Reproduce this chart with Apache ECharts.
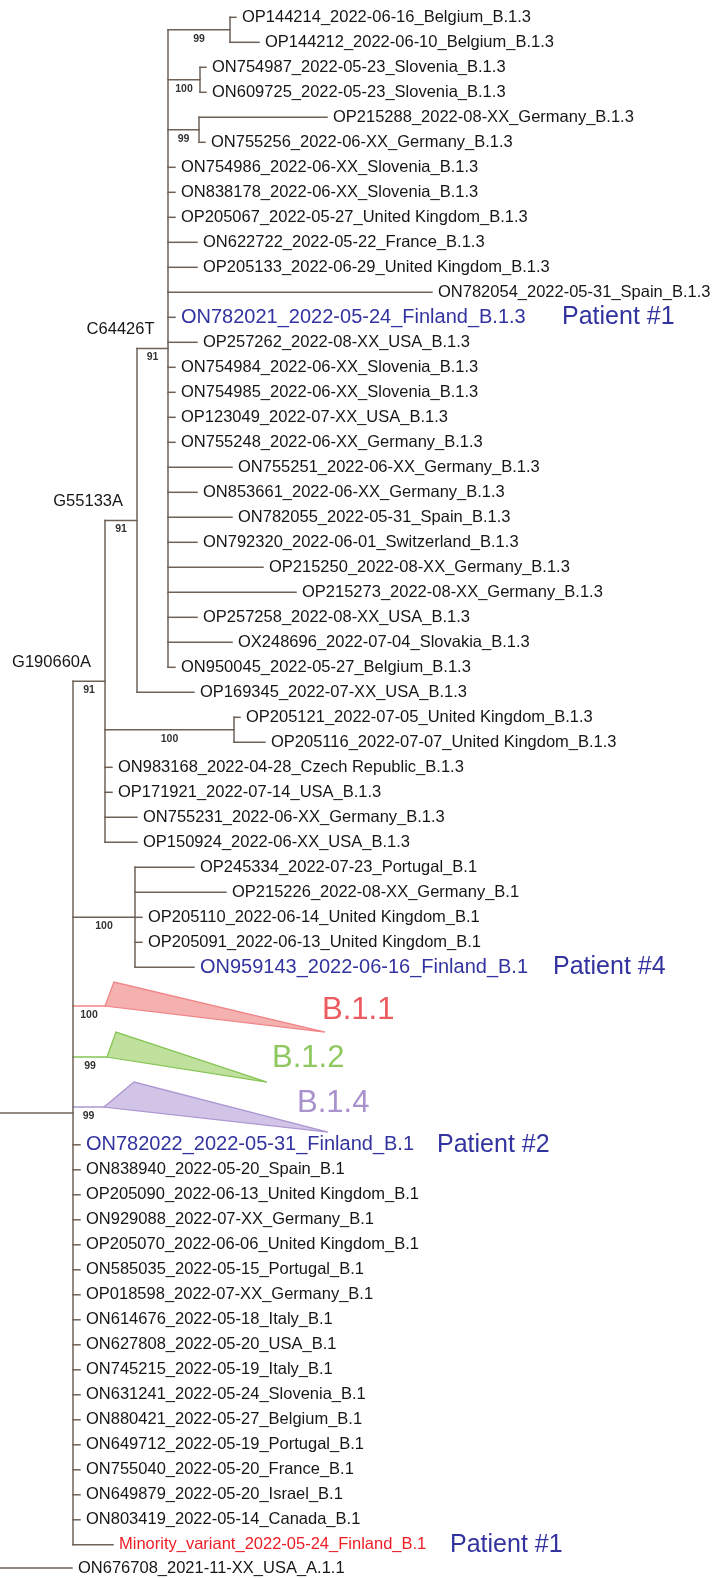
<!DOCTYPE html>
<html><head><meta charset="utf-8">
<script src="https://cdn.jsdelivr.net/npm/echarts@6/dist/echarts.min.js"></script>
<style>html,body{margin:0;padding:0;background:#fff}#c{width:714px;height:1578px}</style>
</head><body><div id="c"></div><script>
// internal nodes: [id, parent, x (branch distance), bootstrap, mutation]
const internalNodes = [
  ['ROOT', null, -2, '', ''],
  ['B1', 'ROOT', 73, '', ''],
  ['G190660A', 'B1', 105, '91', 'G190660A'],
  ['G55133A', 'G190660A', 137, '91', 'G55133A'],
  ['C64426T', 'G55133A', 168, '91', 'C64426T'],
  ['BE', 'C64426T', 230, '99', ''],
  ['SI', 'C64426T', 200, '100', ''],
  ['DE', 'C64426T', 199, '99', ''],
  ['UK', 'G190660A', 234, '100', ''],
  ['B1c', 'B1', 135, '100', '']
];
// leaves: [name, parent, tip x, row, kind]
const leaves = [
  ['OP144214_2022-06-16_Belgium_B.1.3','BE',236,0,'n'],
  ['OP144212_2022-06-10_Belgium_B.1.3','BE',259,1,'n'],
  ['ON754987_2022-05-23_Slovenia_B.1.3','SI',206,2,'n'],
  ['ON609725_2022-05-23_Slovenia_B.1.3','SI',206,3,'n'],
  ['OP215288_2022-08-XX_Germany_B.1.3','DE',327,4,'n'],
  ['ON755256_2022-06-XX_Germany_B.1.3','DE',205,5,'n'],
  ['ON754986_2022-06-XX_Slovenia_B.1.3','C64426T',175,6,'n'],
  ['ON838178_2022-06-XX_Slovenia_B.1.3','C64426T',175,7,'n'],
  ['OP205067_2022-05-27_United Kingdom_B.1.3','C64426T',175,8,'n'],
  ['ON622722_2022-05-22_France_B.1.3','C64426T',197,9,'n'],
  ['OP205133_2022-06-29_United Kingdom_B.1.3','C64426T',197,10,'n'],
  ['ON782054_2022-05-31_Spain_B.1.3','C64426T',432,11,'n'],
  ['ON782021_2022-05-24_Finland_B.1.3','C64426T',175,12,'b'],
  ['OP257262_2022-08-XX_USA_B.1.3','C64426T',197,13,'n'],
  ['ON754984_2022-06-XX_Slovenia_B.1.3','C64426T',175,14,'n'],
  ['ON754985_2022-06-XX_Slovenia_B.1.3','C64426T',175,15,'n'],
  ['OP123049_2022-07-XX_USA_B.1.3','C64426T',175,16,'n'],
  ['ON755248_2022-06-XX_Germany_B.1.3','C64426T',175,17,'n'],
  ['ON755251_2022-06-XX_Germany_B.1.3','C64426T',232,18,'n'],
  ['ON853661_2022-06-XX_Germany_B.1.3','C64426T',197,19,'n'],
  ['ON782055_2022-05-31_Spain_B.1.3','C64426T',232,20,'n'],
  ['ON792320_2022-06-01_Switzerland_B.1.3','C64426T',197,21,'n'],
  ['OP215250_2022-08-XX_Germany_B.1.3','C64426T',263,22,'n'],
  ['OP215273_2022-08-XX_Germany_B.1.3','C64426T',296,23,'n'],
  ['OP257258_2022-08-XX_USA_B.1.3','C64426T',197,24,'n'],
  ['OX248696_2022-07-04_Slovakia_B.1.3','C64426T',232,25,'n'],
  ['ON950045_2022-05-27_Belgium_B.1.3','C64426T',175,26,'n'],
  ['OP169345_2022-07-XX_USA_B.1.3','G55133A',194,27,'n'],
  ['OP205121_2022-07-05_United Kingdom_B.1.3','UK',240,28,'n'],
  ['OP205116_2022-07-07_United Kingdom_B.1.3','UK',265,29,'n'],
  ['ON983168_2022-04-28_Czech Republic_B.1.3','G190660A',112,30,'n'],
  ['OP171921_2022-07-14_USA_B.1.3','G190660A',112,31,'n'],
  ['ON755231_2022-06-XX_Germany_B.1.3','G190660A',137,32,'n'],
  ['OP150924_2022-06-XX_USA_B.1.3','G190660A',137,33,'n'],
  ['OP245334_2022-07-23_Portugal_B.1','B1c',194,34,'n'],
  ['OP215226_2022-08-XX_Germany_B.1','B1c',226,35,'n'],
  ['OP205110_2022-06-14_United Kingdom_B.1','B1c',142,36,'n'],
  ['OP205091_2022-06-13_United Kingdom_B.1','B1c',142,37,'n'],
  ['ON959143_2022-06-16_Finland_B.1','B1c',194,38,'b'],
  ['ON782022_2022-05-31_Finland_B.1','B1',80,45.1,'b'],
  ['ON838940_2022-05-20_Spain_B.1','B1',80,46.1,'n'],
  ['OP205090_2022-06-13_United Kingdom_B.1','B1',80,47.1,'n'],
  ['ON929088_2022-07-XX_Germany_B.1','B1',80,48.1,'n'],
  ['OP205070_2022-06-06_United Kingdom_B.1','B1',80,49.1,'n'],
  ['ON585035_2022-05-15_Portugal_B.1','B1',80,50.1,'n'],
  ['OP018598_2022-07-XX_Germany_B.1','B1',80,51.1,'n'],
  ['ON614676_2022-05-18_Italy_B.1','B1',80,52.1,'n'],
  ['ON627808_2022-05-20_USA_B.1','B1',80,53.1,'n'],
  ['ON745215_2022-05-19_Italy_B.1','B1',80,54.1,'n'],
  ['ON631241_2022-05-24_Slovenia_B.1','B1',80,55.1,'n'],
  ['ON880421_2022-05-27_Belgium_B.1','B1',80,56.1,'n'],
  ['ON649712_2022-05-19_Portugal_B.1','B1',80,57.1,'n'],
  ['ON755040_2022-05-20_France_B.1','B1',80,58.1,'n'],
  ['ON649879_2022-05-20_Israel_B.1','B1',80,59.1,'n'],
  ['ON803419_2022-05-14_Canada_B.1','B1',80,60.1,'n'],
  ['Minority_variant_2022-05-24_Finland_B.1','B1',113,61.1,'r'],
  ['ON676708_2021-11-XX_USA_A.1.1','ROOT',72,62.03,'n']
];
// collapsed clades: [name, parent, row, stemX, apexX, apexRow, tipX, tipRow, bootstrap, labelX, labelRow]
const collapsed = [
  ['B.1.1','B1',39.55,105,114,38.59,325,40.59,'100',322,39.71],
  ['B.1.2','B1',41.59,107,116,40.59,267,42.59,'99',272,41.63],
  ['B.1.4','B1',43.59,104,134,42.59,328,44.59,'99',297,43.43]
];
// patient annotations: [text, row, x]
const patients = [
  ['Patient #1',12,562],
  ['Patient #4',38,553],
  ['Patient #2',45.1,437],
  ['Patient #1',61.1,450]
];

const FONT = "'Liberation Sans', Arial, sans-serif";
const BRANCH = '#6e6258';
const kindStyle = { n: {c:'#161616', s:16.5}, b: {c:'#3333a0', s:20}, r: {c:'#ee1d25', s:16.5} };
const cladeStyle = {
  'B.1.1': {label:'#ec5b60', fill:'#f5b0b0', stroke:'#f08486'},
  'B.1.2': {label:'#8fc860', fill:'#c0e09e', stroke:'#86c454'},
  'B.1.4': {label:'#a992cd', fill:'#d2c4e6', stroke:'#ad97d2'}
};

// build tree geometry in data units
const nodeMap = {};
internalNodes.forEach(n => nodeMap[n[0]] = {id:n[0], parent:n[1], x:n[2], boot:n[3], mut:n[4], kids:[]});
leaves.forEach(l => nodeMap[l[1]].kids.push({type:'leaf', y:l[3]}));
collapsed.forEach(c => nodeMap[c[1]].kids.push({type:'clade', y:c[2]}));
internalNodes.forEach(n => { if (n[1]) nodeMap[n[1]].kids.push({type:'node', id:n[0]}); });
function nodeY(id){
  const n = nodeMap[id];
  if (n.y !== undefined) return n.y;
  const ys = n.kids.map(k => k.type === 'node' ? nodeY(k.id) : k.y);
  n.minY = Math.min(...ys); n.maxY = Math.max(...ys);
  n.y = (n.minY + n.maxY) / 2;
  return n.y;
}
nodeY('ROOT');

const segs = []; // [x1,y1,x2,y2,color]
collapsed.forEach(c => { const p = nodeMap[c[1]]; segs.push([p.x, c[2], c[3], c[2], cladeStyle[c[0]].stroke]); });
leaves.forEach(l => { const p = nodeMap[l[1]]; segs.push([p.x, l[3], l[2], l[3], BRANCH]); });
internalNodes.forEach(n => {
  const nd = nodeMap[n[0]];
  if (n[1]) { const p = nodeMap[n[1]]; segs.push([p.x, nd.y, nd.x, nd.y, BRANCH]); }
  segs.push([nd.x, nd.minY, nd.x, nd.maxY, BRANCH]);
});

const texts = []; // {x,y,text,color,size,align,dx,dy,weight}
leaves.forEach(l => {
  const st = kindStyle[l[4]];
  texts.push({x:l[2], y:l[3], text:l[0], color:st.c, size:st.s, align:'left', dx:6, dy:0});
});
internalNodes.forEach(n => {
  const nd = nodeMap[n[0]];
  if (!n[1]) return;
  const p = nodeMap[n[1]];
  const mid = (p.x + nd.x) / 2;
  if (n[3]) texts.push({x:mid, y:nd.y, text:n[3], color:'#333333', size:10.5, align:'center', dx:0, dy:9, weight:'bold'});
  if (n[4]) texts.push({x:mid, y:nd.y, text:n[4], color:'#161616', size:16.5, align:'right', dx:2, dy:-19});
});
collapsed.forEach(c => {
  const p = nodeMap[c[1]];
  texts.push({x:(p.x + c[3]) / 2, y:c[2], text:c[8], color:'#333333', size:10.5, align:'center', dx:0, dy:9, weight:'bold'});
  texts.push({x:c[9], y:c[10], text:c[0], color:cladeStyle[c[0]].label, size:31, align:'left', dx:0, dy:0});
});
patients.forEach(p => texts.push({x:p[2], y:p[1], text:p[0], color:'#3333a0', size:25, align:'left', dx:0, dy:0}));

const chart = echarts.init(document.getElementById('c'), null, {renderer:'canvas'});
chart.setOption({
  animation: false,
  backgroundColor: '#ffffff',
  grid: {left:0, right:0, top:17.3, bottom:10.7},
  xAxis: {type:'value', min:0, max:714, show:false},
  yAxis: {type:'value', min:0, max:62, inverse:true, show:false},
  series: [
    {
      type:'custom', clip:false, silent:true, z:1,
      data: collapsed.map(c => [c[3], c[2], c[4], c[5], c[6], c[7]]),
      encode: {x:[0,2,4], y:[1,3,5]},
      renderItem: (params, api) => {
        const c = collapsed[params.dataIndex];
        const a = api.coord([api.value(0), api.value(1)]);
        const b = api.coord([api.value(2), api.value(3)]);
        const t = api.coord([api.value(4), api.value(5)]);
        const st = cladeStyle[c[0]];
        return {type:'polygon', shape:{points:[a,b,t]}, style:{fill:st.fill, stroke:st.stroke, lineWidth:1.3}};
      }
    },
    {
      type:'custom', clip:false, silent:true, z:2,
      data: segs.map(s => [s[0], s[1], s[2], s[3]]),
      encode: {x:[0,2], y:[1,3]},
      renderItem: (params, api) => {
        const a = api.coord([api.value(0), api.value(1)]);
        const b = api.coord([api.value(2), api.value(3)]);
        return {type:'line', shape:{x1:a[0], y1:a[1], x2:b[0], y2:b[1]},
          style:{stroke:segs[params.dataIndex][4], lineWidth:1.5, lineCap:'square'}};
      }
    },
    {
      type:'custom', clip:false, silent:true, z:3,
      data: texts.map(t => [t.x, t.y]),
      encode: {x:0, y:1},
      renderItem: (params, api) => {
        const t = texts[params.dataIndex];
        const p = api.coord([api.value(0), api.value(1)]);
        return {type:'text', x:p[0] + t.dx, y:p[1] + t.dy,
          style:{text:t.text, fill:t.color, fontSize:t.size, fontFamily:FONT, fontWeight:t.weight || 'normal',
            align:t.align, verticalAlign:'middle', textAlign:t.align, textVerticalAlign:'middle'}};
      }
    }
  ]
});
</script></body></html>
